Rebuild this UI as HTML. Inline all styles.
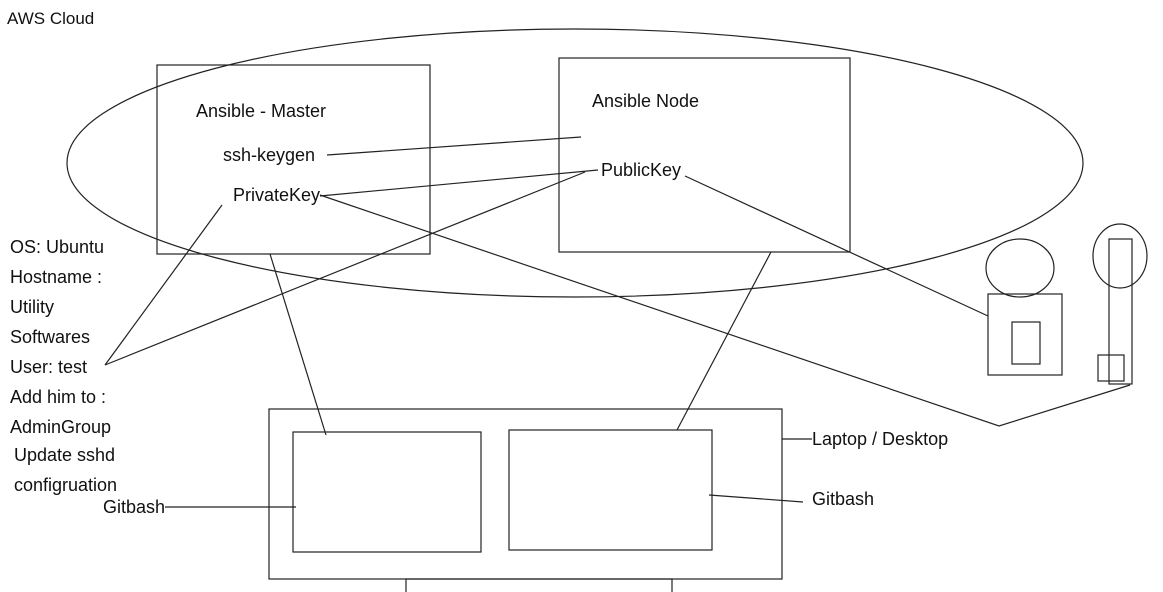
<!DOCTYPE html>
<html><head><style>
body{margin:0;background:#fff;}
svg{display:block;}
text{font-family:"Liberation Sans",Arial,sans-serif;font-size:18px;fill:#111;}
</style></head><body>
<svg width="1163" height="592" viewBox="0 0 1163 592" xmlns="http://www.w3.org/2000/svg">
<g fill="none" stroke="#222" stroke-width="1.2">
<ellipse cx="575" cy="163" rx="508" ry="134"/>
<rect x="157" y="65" width="273" height="189"/>
<rect x="559" y="58" width="291" height="194"/>
<rect x="269" y="409" width="513" height="170"/>
<rect x="293" y="432" width="188" height="120"/>
<rect x="509" y="430" width="203" height="120"/>
<rect x="406" y="579" width="266" height="20"/>
<ellipse cx="1020" cy="268" rx="34" ry="29"/>
<rect x="988" y="294" width="74" height="81"/>
<rect x="1012" y="322" width="28" height="42"/>
<ellipse cx="1120" cy="256" rx="27" ry="32"/>
<rect x="1109" y="239" width="23" height="145"/>
<rect x="1098" y="355" width="26" height="26"/>
<line x1="327" y1="155" x2="581" y2="137"/>
<line x1="320" y1="196" x2="598" y2="170"/>
<polyline points="320,195 999,426 1130,385"/>
<line x1="685" y1="176" x2="988" y2="316"/>
<line x1="105" y1="365" x2="222" y2="205"/>
<line x1="105" y1="365" x2="585" y2="172"/>
<line x1="270" y1="254" x2="326" y2="435"/>
<line x1="771" y1="252" x2="677" y2="430"/>
<line x1="782" y1="439" x2="812" y2="439"/>
<line x1="709" y1="495" x2="803" y2="502"/>
<line x1="165" y1="507" x2="296" y2="507"/>
</g>
<text x="7" y="24" style="font-size:17px">AWS Cloud</text>
<text x="196" y="117">Ansible - Master</text>
<text x="223" y="161">ssh-keygen</text>
<text x="233" y="201">PrivateKey</text>
<text x="592" y="107">Ansible Node</text>
<text x="601" y="176">PublicKey</text>
<text x="10" y="253">OS: Ubuntu</text>
<text x="10" y="283">Hostname :</text>
<text x="10" y="313">Utility</text>
<text x="10" y="343">Softwares</text>
<text x="10" y="373">User: test</text>
<text x="10" y="403">Add him to :</text>
<text x="10" y="433">AdminGroup</text>
<text x="14" y="461">Update sshd</text>
<text x="14" y="491">configruation</text>
<text x="103" y="513">Gitbash</text>
<text x="812" y="445">Laptop / Desktop</text>
<text x="812" y="505">Gitbash</text>
</svg>
</body></html>
